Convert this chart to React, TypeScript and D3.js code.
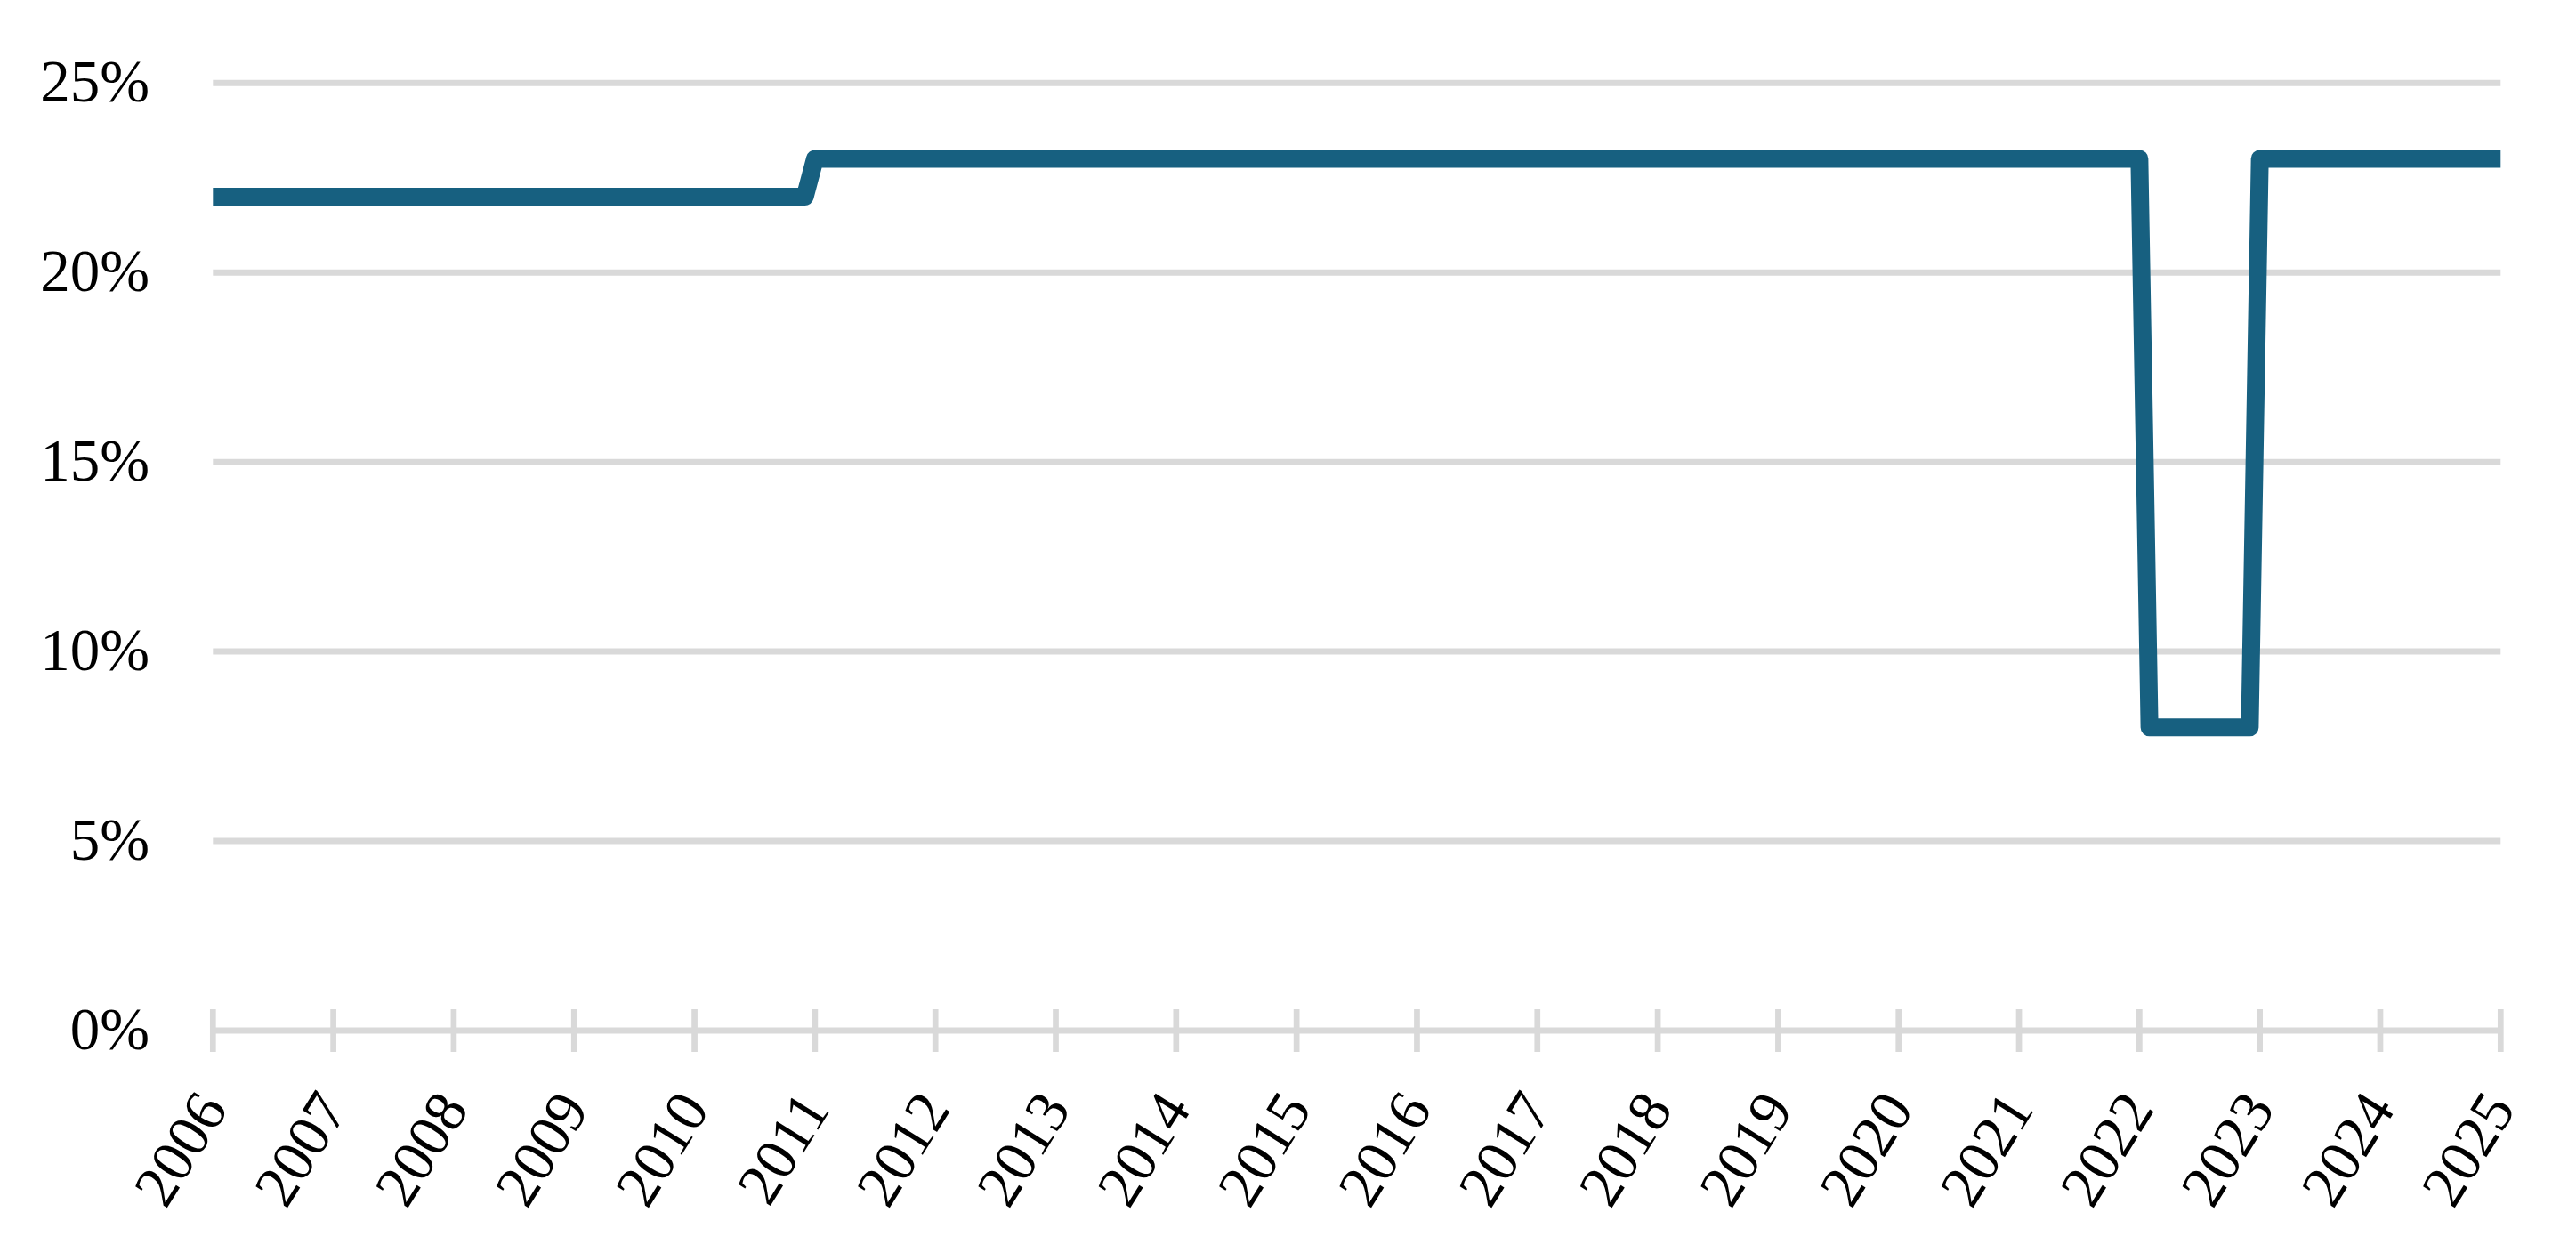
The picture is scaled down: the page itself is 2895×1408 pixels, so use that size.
import React from "react";
import * as d3 from "d3";

const yearLabels = [
  "2006", "2007", "2008", "2009", "2010", "2011", "2012", "2013", "2014", "2015",
  "2016", "2017", "2018", "2019", "2020", "2021", "2022", "2023", "2024", "2025",
];

const yTicks = [0, 5, 10, 15, 20, 25];

// Monthly rate (%), Jan 2006 .. Jan 2025, one row per year
const monthlyRates = [
  22, 22, 22, 22, 22, 22, 22, 22, 22, 22, 22, 22, // 2006
  22, 22, 22, 22, 22, 22, 22, 22, 22, 22, 22, 22, // 2007
  22, 22, 22, 22, 22, 22, 22, 22, 22, 22, 22, 22, // 2008
  22, 22, 22, 22, 22, 22, 22, 22, 22, 22, 22, 22, // 2009
  22, 22, 22, 22, 22, 22, 22, 22, 22, 22, 22, 22, // 2010
  23, 23, 23, 23, 23, 23, 23, 23, 23, 23, 23, 23, // 2011
  23, 23, 23, 23, 23, 23, 23, 23, 23, 23, 23, 23, // 2012
  23, 23, 23, 23, 23, 23, 23, 23, 23, 23, 23, 23, // 2013
  23, 23, 23, 23, 23, 23, 23, 23, 23, 23, 23, 23, // 2014
  23, 23, 23, 23, 23, 23, 23, 23, 23, 23, 23, 23, // 2015
  23, 23, 23, 23, 23, 23, 23, 23, 23, 23, 23, 23, // 2016
  23, 23, 23, 23, 23, 23, 23, 23, 23, 23, 23, 23, // 2017
  23, 23, 23, 23, 23, 23, 23, 23, 23, 23, 23, 23, // 2018
  23, 23, 23, 23, 23, 23, 23, 23, 23, 23, 23, 23, // 2019
  23, 23, 23, 23, 23, 23, 23, 23, 23, 23, 23, 23, // 2020
  23, 23, 23, 23, 23, 23, 23, 23, 23, 23, 23, 23, // 2021
  23, 8, 8, 8, 8, 8, 8, 8, 8, 8, 8, 8,            // 2022
  23, 23, 23, 23, 23, 23, 23, 23, 23, 23, 23, 23, // 2023
  23, 23, 23, 23, 23, 23, 23, 23, 23, 23, 23, 23, // 2024
  23,                                             // 2025
];

const W = 2895;
const H = 1408;
const X0 = 239.3;
const X1 = 2810.3;
const Y0 = 1158;
const Y25 = 93.3;
const GRID = "#d9d9d9";
const LINE = "#176080";
const FONT = "'Liberation Serif', 'Times New Roman', serif";

export default function App() {
  const x = d3.scaleLinear().domain([0, (yearLabels.length - 1) * 12]).range([X0, X1]);
  const y = d3.scaleLinear().domain([0, 25]).range([Y0, Y25]);
  const line = d3
    .line<number>()
    .x((_, i) => x(i))
    .y((d) => y(d));

  return (
    <div style={{ position: "absolute", left: 0, top: 0 }}>
      <svg width={W} height={H} style={{ display: "block", background: "#fff" }}>
        <rect x={0} y={0} width={W} height={H} fill="#fff" />
        {yTicks.map((t) => (
          <g key={t}>
            <line x1={X0} x2={X1} y1={y(t)} y2={y(t)} stroke={GRID} strokeWidth={7} />
            <text
              x={168}
              y={y(t) + 21}
              textAnchor="end"
              fontFamily={FONT}
              fontSize={67}
              fill="#000"
            >
              {t}%
            </text>
          </g>
        ))}
        {yearLabels.map((lab, i) => {
          const tx = x(i * 12);
          return (
            <g key={lab}>
              <line x1={tx} x2={tx} y1={Y0 - 24} y2={Y0 + 24} stroke={GRID} strokeWidth={6.7} />
              <text
                transform={`translate(${tx + 18},${Y0 + 88}) rotate(-58)`}
                textAnchor="end"
                fontFamily={FONT}
                fontSize={67}
                fill="#000"
              >
                {lab}
              </text>
            </g>
          );
        })}
        <path
          d={line(monthlyRates) || ""}
          fill="none"
          stroke={LINE}
          strokeWidth={20}
          strokeLinejoin="round"
          strokeLinecap="butt"
        />
      </svg>
    </div>
  );
}
